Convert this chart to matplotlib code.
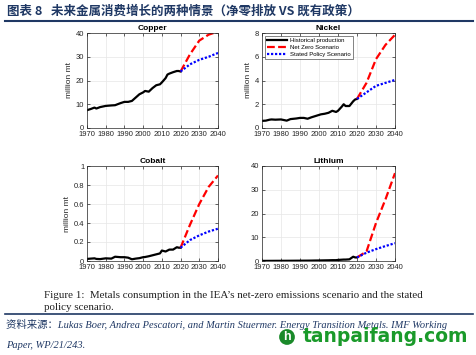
import matplotlib
matplotlib.use("Agg")
import matplotlib.pyplot as plt
import numpy as np

plt.rcParams['font.family'] = ['Liberation Sans', 'DejaVu Sans']

hist_years = [1970, 1972, 1974, 1975, 1977, 1980, 1983, 1985, 1988, 1990, 1992, 1994, 1996, 1998, 2000, 2001, 2003, 2005, 2007, 2009, 2010, 2012, 2013, 2014, 2016, 2018, 2019, 2020]
proj_years = [2020, 2025, 2030, 2035, 2040]

copper_hist = [7.5, 8.0, 8.6, 8.2, 8.8, 9.3, 9.5, 9.6, 10.5, 11.0, 11.0, 11.4, 12.8, 14.2, 15.0, 15.6, 15.3, 16.8, 18.0, 18.4, 19.2, 21.0, 22.5, 22.9, 23.5, 24.0, 24.0, 23.8]
copper_nz = [23.8, 31.0, 36.8, 39.3, 40.6]
copper_sp = [23.8, 26.8, 28.7, 30.0, 31.6]

nickel_hist = [0.6, 0.62, 0.7, 0.72, 0.7, 0.72, 0.62, 0.75, 0.8, 0.85, 0.85, 0.78, 0.9, 1.0, 1.1, 1.15, 1.2, 1.28, 1.45, 1.35, 1.45, 1.8, 2.0, 1.85, 1.85, 2.25, 2.4, 2.45]
nickel_nz = [2.45, 3.8, 5.8, 7.0, 7.85]
nickel_sp = [2.45, 3.0, 3.55, 3.8, 4.05]

cobalt_hist = [0.022, 0.025, 0.028, 0.022, 0.02, 0.028, 0.025, 0.045, 0.04, 0.04, 0.035, 0.018, 0.025, 0.03, 0.04, 0.042, 0.05, 0.06, 0.07, 0.08, 0.11, 0.1, 0.11, 0.12, 0.12, 0.145, 0.14, 0.14]
cobalt_nz = [0.14, 0.38, 0.6, 0.78, 0.9]
cobalt_sp = [0.14, 0.22, 0.27, 0.31, 0.34]

lithium_hist = [0.05, 0.05, 0.06, 0.06, 0.07, 0.08, 0.09, 0.1, 0.12, 0.13, 0.14, 0.15, 0.17, 0.2, 0.22, 0.24, 0.27, 0.3, 0.35, 0.35, 0.45, 0.55, 0.6, 0.6, 0.7, 1.8, 1.5, 1.5]
lithium_nz = [1.5, 4.0, 16.0, 26.0, 37.0]
lithium_sp = [1.5, 3.5, 5.0, 6.3, 7.5]

titles = ["Copper", "Nickel", "Cobalt", "Lithium"]
hists = [copper_hist, nickel_hist, cobalt_hist, lithium_hist]
nzs = [copper_nz, nickel_nz, cobalt_nz, lithium_nz]
sps = [copper_sp, nickel_sp, cobalt_sp, lithium_sp]
ylims = [(0, 40), (0, 8), (0, 1), (0, 40)]
yticks = [[0, 10, 20, 30, 40], [0, 2, 4, 6, 8], [0, 0.2, 0.4, 0.6, 0.8, 1], [0, 10, 20, 30, 40]]
yticklabels = [["0", "10", "20", "30", "40"], ["0", "2", "4", "6", "8"],
               ["0", "0.2", "0.4", "0.6", "0.8", "1"], ["0", "10", "20", "30", "40"]]
ylabels = ["million mt", "million mt", "million mt", None]
xticks = [1970, 1980, 1990, 2000, 2010, 2020, 2030, 2040]
legend_labels = ["Historical production", "Net Zero Scenario", "Stated Policy Scenario"]

W, H = 477, 355
fig = plt.figure(figsize=(W / 100, H / 100), dpi=100)

def ax_rect(l, t, r, b):
    return [l / W, 1 - b / H, (r - l) / W, (b - t) / H]

rects = [ax_rect(87, 33, 218, 128), ax_rect(262, 33, 395, 128),
         ax_rect(87, 166, 218, 261), ax_rect(262, 166, 395, 261)]

for i in range(4):
    ax = fig.add_axes(rects[i])
    ax.plot(hist_years, hists[i], color='black', lw=1.6, label=legend_labels[0])
    ax.plot(proj_years, nzs[i], color='red', lw=1.6, ls=(0, (3.5, 1.5)), label=legend_labels[1])
    ax.plot(proj_years, sps[i], color='blue', lw=1.6, ls=(0, (1, 0.8)), label=legend_labels[2])
    ax.set_xlim(1970, 2040)
    ax.set_ylim(*ylims[i])
    ax.set_xticks(xticks)
    ax.set_yticks(yticks[i])
    ax.set_yticklabels(yticklabels[i])
    ax.tick_params(direction='in', labelsize=5.5, length=2, width=0.5, colors='#262626',
                   top=True, right=True)
    ax.tick_params(axis='x', pad=2.5)
    ax.tick_params(axis='y', pad=2)
    ax.grid(True, color='#e6e6e6', lw=0.5)
    for s in ax.spines.values():
        s.set_linewidth(0.5)
        s.set_color('#262626')
    ax.set_title(titles[i], fontsize=6, fontweight='bold', pad=2)
    if ylabels[i]:
        ax.set_ylabel(ylabels[i], fontsize=6, labelpad=2, color='#262626')
    if i == 1:
        ax.legend(loc='upper left', fontsize=4.3, frameon=True, fancybox=False,
                  edgecolor='#262626', handlelength=3.4, borderpad=0.35, labelspacing=0.3,
                  handletextpad=0.5, borderaxespad=0,
                  bbox_to_anchor=(0.02, 0.97)).get_frame().set_linewidth(0.5)

# header
fig.text(7 / W, 1 - 11 / H, "图表 8   未来金属消费增长的两种情景（净零排放 VS 既有政策）",
         fontsize=9, fontweight='bold', color='#1f3864', va='center', ha='left',
         family=['Noto Sans CJK SC', 'DejaVu Sans'])
fig.add_artist(plt.Line2D([5 / W, 473 / W], [1 - 20.5 / H, 1 - 20.5 / H], color='#1f3864', lw=1.5))

# caption
fig.text(44 / W, 1 - 295 / H, "Figure 1:  Metals consumption in the IEA\u2019s net-zero emissions scenario and the stated",
         fontsize=7.9, family='Liberation Serif', va='center', ha='left', color='#222222')
fig.text(44 / W, 1 - 307 / H, "policy scenario.",
         fontsize=7.9, family='Liberation Serif', va='center', ha='left', color='#222222')
fig.add_artist(plt.Line2D([5 / W, 473 / W], [1 - 313.5 / H, 1 - 313.5 / H], color='#1f3864', lw=1.2))

fig.text(6 / W, 1 - 324 / H, "资料来源：Lukas Boer, Andrea Pescatori, and Martin Stuermer. Energy Transition Metals. IMF Working",
         fontsize=7.5, style='italic', color='#1f3864', va='center', ha='left',
         family=['Liberation Serif', 'Noto Sans CJK SC'])
fig.text(6 / W, 1 - 345 / H, "Paper, WP/21/243.",
         fontsize=7.5, style='italic', color='#1f3864', va='center', ha='left',
         family=['Liberation Serif', 'Noto Sans CJK SC'])

# watermark
fig.text(287 / W, 1 - 337 / H, "h", fontsize=9, fontweight='bold', color='white', va='center', ha='center',
         bbox=dict(boxstyle='circle,pad=0.15', fc='#1a8a2a', ec='none'))
fig.text(303 / W, 1 - 337 / H, "tanpaifang.com", fontsize=13.5, fontweight='bold', color='#1a9a2a',
         va='center', ha='left', family='DejaVu Sans')

fig.savefig("out.png", dpi=100)
